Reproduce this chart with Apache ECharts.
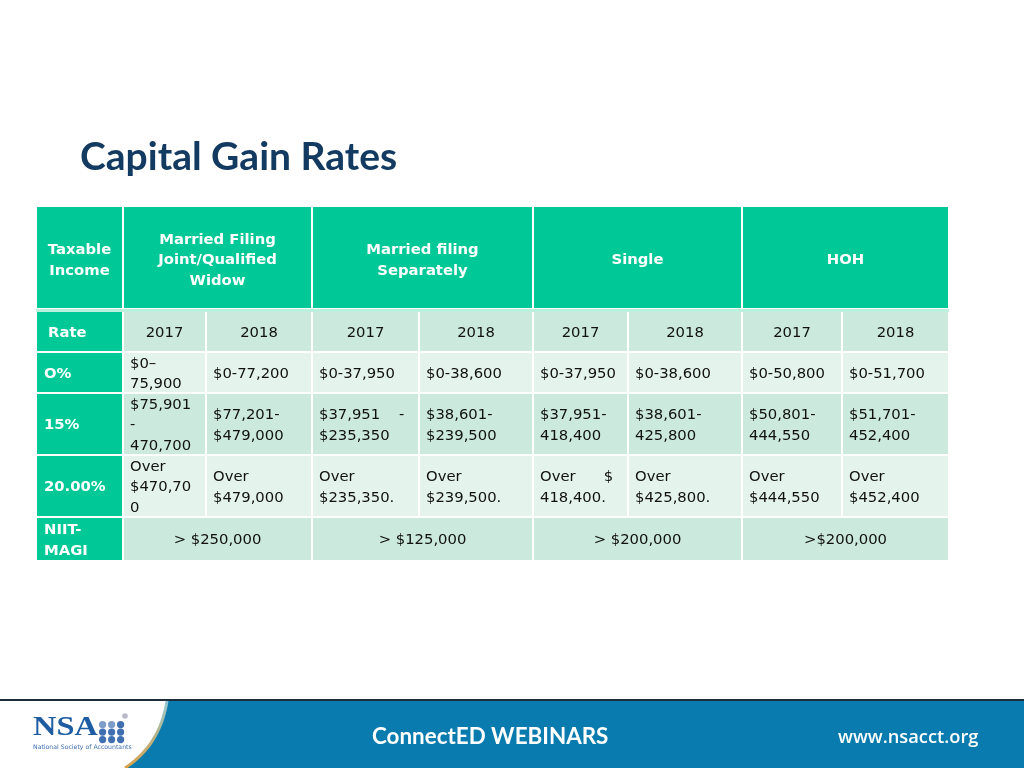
<!DOCTYPE html>
<html>
<head>
<meta charset="utf-8">
<title>Capital Gain Rates</title>
<script src="https://cdn.jsdelivr.net/npm/echarts@6/dist/echarts.min.js"></script>
<style>
  html, body { margin: 0; padding: 0; background: #fff; }
  #chart { width: 1024px; height: 768px; }
</style>
</head>
<body>
<div id="chart"></div>
<script>
// table content
const groupHeaders = ['Married Filing\nJoint/Qualified\nWidow', 'Married filing\nSeparately', 'Single', 'HOH']
const years = ['2017', '2018', '2017', '2018', '2017', '2018', '2017', '2018']
const rateLabels = ['Rate', 'O%', '15%', '20.00%', 'NIIT-\nMAGI']
const zeroRate = ['$0–\n75,900', '$0-77,200', '$0-37,950', '$0-38,600', '$0-37,950', '$0-38,600', '$0-50,800', '$0-51,700']
const fifteenRate = ['$75,901\n-\n470,700', '$77,201-\n$479,000', '$37,951    -\n$235,350', '$38,601-\n$239,500', '$37,951-\n418,400', '$38,601-\n425,800', '$50,801-\n444,550', '$51,701-\n452,400']
const twentyRate = ['Over\n$470,70\n0', 'Over\n$479,000', 'Over\n$235,350.', 'Over\n$239,500.', 'Over      $\n418,400.', 'Over\n$425,800.', 'Over\n$444,550', 'Over\n$452,400']
const niitMagi = ['> $250,000', '> $125,000', '> $200,000', '>$200,000']

// layout (table units = px inside the grid)
const colEdges = [0, 87, 170, 276, 383, 497, 592, 706, 806, 913]
const rowEdges = [0, 105, 146, 187, 249, 311, 355]

const TEAL = '#00C896'
const DARK = '#CBE9DD'
const LIGHT = '#E4F3EC'

// build the cell list: [colStart, colEnd, row, kind, text]
const cells = []
cells.push([0, 1, 0, 'head', 'Taxable\nIncome'])
groupHeaders.forEach((t, i) => cells.push([1 + i * 2, 3 + i * 2, 0, 'head', t]))
rateLabels.forEach((t, i) => cells.push([0, 1, i + 1, 'rate', t]))
years.forEach((t, i) => cells.push([i + 1, i + 2, 1, 'year', t]))
zeroRate.forEach((t, i) => cells.push([i + 1, i + 2, 2, 'left', t]))
fifteenRate.forEach((t, i) => cells.push([i + 1, i + 2, 3, 'left', t]))
twentyRate.forEach((t, i) => cells.push([i + 1, i + 2, 4, 'left', t]))
niitMagi.forEach((t, i) => cells.push([1 + i * 2, 3 + i * 2, 5, 'center', t]))

const rowBg = [TEAL, DARK, LIGHT, DARK, LIGHT, DARK]

const renderCell = (params, api) => {
  const c = cells[params.dataIndex]
  const p0 = api.coord([colEdges[c[0]], rowEdges[c[2]]])
  const p1 = api.coord([colEdges[c[1]], rowEdges[c[2] + 1]])
  const x = p0[0] + 1
  const y = p0[1] + 1
  const w = p1[0] - p0[0] - 2
  const h = p1[1] - p0[1] - 2 - (c[2] === 0 ? 2 : 0)
  const kind = c[3]
  const isTeal = kind === 'head' || kind === 'rate'
  const fill = isTeal ? TEAL : rowBg[c[2]]
  let tx = x + w / 2
  let align = 'center'
  if (kind === 'left') { tx = x + 6; align = 'left' }
  if (kind === 'rate') { tx = x + 7 + (c[2] === 1 ? 4 : 0); align = 'left' }
  return {
    type: 'group',
    children: [
      { type: 'rect', shape: { x, y, width: w, height: h }, style: { fill } },
      {
        type: 'text',
        style: {
          x: tx,
          y: y + h / 2 + (c[2] === 0 ? 3 : 1.5),
          text: c[4],
          align,
          verticalAlign: 'middle',
          fill: isTeal ? '#fff' : '#111',
          font: (isTeal ? 'bold 14.8px' : '14.8px') + ' "DejaVu Sans", Verdana, sans-serif',
          lineHeight: 20.5
        }
      }
    ]
  }
}

// curved left edge of the footer band
const curve = []
for (let i = 0; i <= 20; i++) {
  const t = i / 20
  curve.push([
    (1 - t) * (1 - t) * 167 + 2 * (1 - t) * t * 160 + t * t * 125,
    (1 - t) * (1 - t) * 701 + 2 * (1 - t) * t * 745 + t * t * 768
  ])
}

const chart = echarts.init(document.getElementById('chart'))
chart.setOption({
  backgroundColor: '#fff',
  animation: false,
  grid: { left: 36, top: 206, width: 913, height: 355 },
  xAxis: { type: 'value', min: 0, max: 913, show: false },
  yAxis: { type: 'value', min: 0, max: 355, inverse: true, show: false },
  graphic: [
    {
      type: 'text', left: 80, top: 138,
      style: { text: 'Capital Gain Rates', fill: '#133A60', font: 'bold 39px Lato, "Open Sans", sans-serif' }
    },
    // header/body separator
    { type: 'rect', shape: { x: 36, y: 309, width: 913, height: 3 }, style: { fill: '#BDEFDD' } },
    // footer
    { type: 'rect', shape: { x: 0, y: 699, width: 1024, height: 2 }, style: { fill: '#1C2C3A' } },
    {
      type: 'polygon',
      shape: { points: [[1024, 701], [1024, 768]].concat(curve.slice().reverse()).reverse() },
      style: { fill: '#0A7BAE' }
    },
    {
      type: 'polyline',
      shape: { points: curve },
      style: {
        fill: null, lineWidth: 3,
        stroke: new echarts.graphic.LinearGradient(0, 0, 0, 1, [
          { offset: 0, color: '#8EC9D8' },
          { offset: 1, color: '#E0A040' }
        ])
      }
    },
    {
      type: 'text', left: 372, top: 726,
      style: { text: 'ConnectED WEBINARS', fill: '#fff', font: 'bold 22.4px Lato, "Open Sans", sans-serif' }
    },
    {
      type: 'text', left: 838, top: 729,
      style: { text: 'www.nsacct.org', fill: '#fff', font: '600 18.3px "Open Sans", Lato, sans-serif' }
    },
    // NSA logo
    {
      type: 'text', x: 33, y: 715, scaleX: 1.2,
      style: { text: 'NSA', fill: '#1F5DA3', font: 'bold 27px "Liberation Serif", serif' }
    },
    {
      type: 'group', x: 99, y: 721,
      children: [0, 1, 2].flatMap(r => [0, 1, 2].map(k => ({
        type: 'circle', shape: { cx: k * 9 + 3.6, cy: r * 7.5 + 3.6, r: 3.6 },
        style: { fill: r === 0 && k < 2 ? '#7E9CC8' : '#3F6FB0' }
      })))
    },
    { type: 'circle', shape: { cx: 125, cy: 716, r: 2.8 }, style: { fill: '#B8B8C8' } },
    {
      type: 'text', x: 33, y: 744,
      style: { text: 'National Society of Accountants', fill: '#3F6FB0', font: '6.2px "DejaVu Sans", sans-serif' }
    }
  ],
  series: [{
    type: 'custom',
    renderItem: renderCell,
    encode: { x: 0, y: 1 },
    data: cells.map(c => [colEdges[c[0]], rowEdges[c[2]]])
  }]
})
</script>
</body>
</html>
